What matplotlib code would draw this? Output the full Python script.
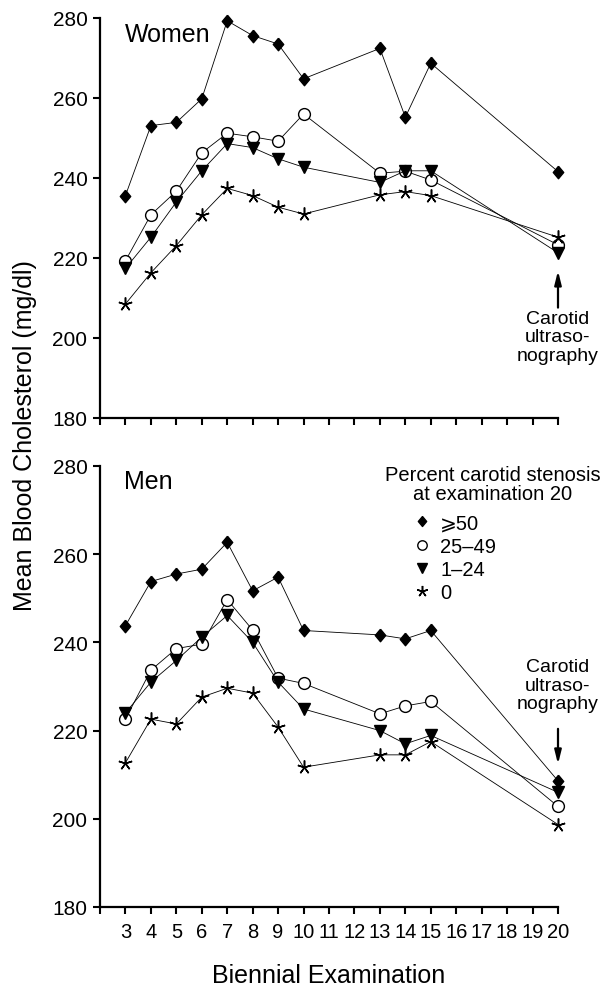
import numpy as np
import matplotlib
matplotlib.use("Agg")
import matplotlib.pyplot as plt
from matplotlib.lines import Line2D

plt.rcParams['font.family'] = ['Liberation Sans', 'DejaVu Sans']

# biennial examinations with data
exams = [3, 4, 5, 6, 7, 8, 9, 10, 13, 14, 15, 20]
groups = ['\u2a7e50', '25\u201349', '1\u201324', '0']

# mean blood cholesterol (mg/dl), women
women_50 = [235.6, 253.1, 253.9, 259.8, 279.3, 275.6, 273.5, 264.8, 272.4, 255.2, 268.7, 241.6]
women_25 = [219.3, 230.8, 236.7, 246.3, 251.2, 250.3, 249.2, 256.0, 241.2, 241.7, 239.5, 223.3]
women_1 = [217.4, 225.2, 234.0, 241.8, 248.6, 247.6, 244.8, 242.7, 238.9, 241.8, 241.8, 221.3]
women_0 = [208.5, 216.3, 223.1, 230.8, 237.4, 235.6, 232.7, 231.0, 235.8, 236.6, 235.6, 225.2]

# mean blood cholesterol (mg/dl), men
men_50 = [243.8, 253.8, 255.5, 256.6, 262.7, 251.7, 254.8, 242.7, 241.7, 240.8, 242.7, 208.6]
men_25 = [222.6, 233.7, 238.6, 239.6, 249.7, 242.8, 231.9, 230.7, 223.8, 225.6, 226.6, 202.8]
men_1 = [224.0, 231.0, 235.9, 241.2, 246.1, 240.0, 231.0, 224.9, 220.0, 217.0, 218.9, 206.0]
men_0 = [212.7, 222.6, 221.5, 227.6, 229.6, 228.5, 220.8, 211.7, 214.5, 214.5, 217.5, 198.7]

diamond = [(0, 1.2), (1, 0), (0, -1.2), (-1, 0), (0, 1.2)]
styles = [
    dict(marker=diamond, markersize=9, markerfacecolor='black', markeredgecolor='black'),
    dict(marker='o', markersize=8.5, markerfacecolor='white', markeredgecolor='black', markeredgewidth=1.0),
    dict(marker='v', markersize=8.5, markerfacecolor='black', markeredgecolor='black'),
    dict(marker=(5, 2, 0), markersize=10, markeredgecolor='black', markeredgewidth=1.1),
]

fig = plt.figure(figsize=(6.1, 9.87), dpi=100)
ax1 = fig.add_axes([100 / 610, 1 - 419 / 987, 458 / 610, 400 / 987])
ax2 = fig.add_axes([100 / 610, 1 - 908 / 987, 458 / 610, 441 / 987])


def draw_panel(ax, series):
    for vals, st in zip(series, styles):
        ax.plot(exams, vals, color='black', lw=0.6, clip_on=False, zorder=3, **st)
    ax.set_xlim(2, 20)
    ax.set_ylim(180, 280)
    ax.set_yticks(np.arange(180, 281, 20))
    ax.set_xticks(range(2, 21))
    for s in ['top', 'right']:
        ax.spines[s].set_visible(False)
    for s in ['left', 'bottom']:
        ax.spines[s].set_linewidth(1.6)
    ax.tick_params(axis='both', direction='out', length=5, width=1.5)
    ax.tick_params(axis='y', labelsize=15, pad=4)
    ax.tick_params(axis='x', labelsize=14.5, pad=6)


draw_panel(ax1, [women_50, women_25, women_1, women_0])
draw_panel(ax2, [men_50, men_25, men_1, men_0])

ax1.set_xticklabels([])
ax2.set_xticklabels([''] + [str(x) for x in range(3, 21)])

ax1.text(0.055, 0.96, 'Women', transform=ax1.transAxes, fontsize=18, va='center', ha='left')
ax2.text(0.052, 0.966, 'Men', transform=ax2.transAxes, fontsize=18, va='center', ha='left')

# carotid ultrasonography notes
arrow = dict(arrowstyle='-|>,head_length=0.8,head_width=0.2', color='black', lw=1.6, shrinkA=0, shrinkB=0)
ax1.annotate('', xy=(20, 216.8), xytext=(20, 207.6), arrowprops=arrow, annotation_clip=False)
ax1.text(20, 207.0, 'Carotid\nultraso-\nnography', ha='center', va='top', fontsize=14, linespacing=1.1)
ax2.annotate('', xy=(20, 212.4), xytext=(20, 220.4), arrowprops=arrow, annotation_clip=False)
ax2.text(20, 236.4, 'Carotid\nultraso-\nnography', ha='center', va='top', fontsize=14, linespacing=1.1)

# legend
ax2.text(0.858, 0.959, 'Percent carotid stenosis\nat examination 20', transform=ax2.transAxes,
         ha='center', va='center', fontsize=14.5, linespacing=1.05)
handles = [Line2D([], [], color='black', linestyle='none', **st) for st in styles]
ax2.legend(handles, groups, loc='upper left', bbox_to_anchor=(0.681, 0.893), frameon=False,
           fontsize=14.5, borderpad=0, borderaxespad=0, handlelength=1.0, handletextpad=0.4,
           labelspacing=0.22, markerscale=0.8)

ax2.set_xlabel('Biennial Examination', fontsize=18, labelpad=16)
fig.text(25 / 610, 1 - 436 / 987, 'Mean Blood Cholesterol (mg/dl)', rotation=90,
         ha='center', va='center', fontsize=18)

fig.savefig('out.png', dpi=100)
